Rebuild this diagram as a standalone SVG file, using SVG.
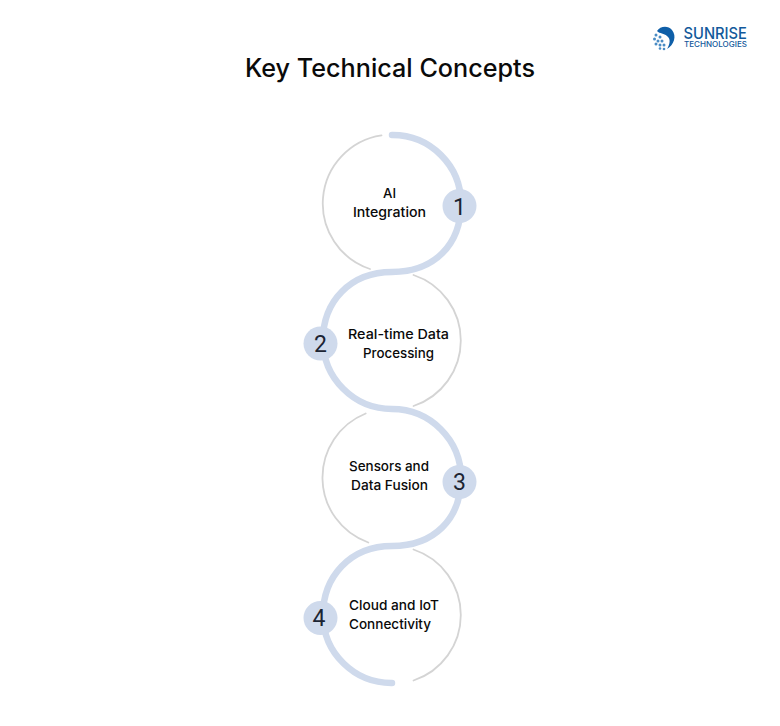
<svg xmlns="http://www.w3.org/2000/svg" width="780" height="726" viewBox="0 0 780 726">
<style>
text{font-family:"Inter","Open Sans","Liberation Sans",sans-serif;fill:#0a0a0a;text-anchor:middle}
.t{font-size:13.5px;font-weight:500}
.n{font-size:23px;font-family:"Roboto","Liberation Sans",sans-serif;fill:#1c2433}
.g{fill:none;stroke:#d4d4d4;stroke-width:1.8;stroke-linecap:round}
.b{fill:none;stroke:#cfdaec;stroke-width:6.5;stroke-linecap:round}
.c{fill:#cfdaec}
.l{text-anchor:start;fill:#12599b;font-weight:500}
.d{fill:#4a8cc4}
</style>
<rect width="780" height="726" fill="#fff"/>
<text x="390" y="76.500" font-size="25" font-weight="500" textLength="290" lengthAdjust="spacingAndGlyphs">Key Technical Concepts</text>
<g id="logo">
<path d="M657 31C660 26 668 25 672 30C677 36 674 45 667 49C670 44 671 39 667 36C664 33 660 34 657 31z" fill="#0f5fa8"/>
<circle class="d" cx="656" cy="35" r="1.500"/><circle class="d" cx="660" cy="37" r="1.500"/><circle class="d" cx="654.500" cy="39" r="1.500"/><circle class="d" cx="658" cy="41" r="1.500"/><circle class="d" cx="662" cy="41" r="1.500"/><circle class="d" cx="656" cy="44" r="1.500"/><circle class="d" cx="660" cy="45" r="1.500"/><circle class="d" cx="664" cy="45" r="1.500"/><circle class="d" cx="660" cy="48.500" r="1.300"/><circle class="d" cx="664" cy="49" r="1.300"/>
<text class="l" x="683.500" y="38.500" font-size="16" textLength="63.500" lengthAdjust="spacingAndGlyphs">SUNRISE</text>
<text class="l" x="684" y="47.300" font-size="7.500" textLength="63" lengthAdjust="spacingAndGlyphs">TECHNOLOGIES</text>
</g>
<g id="connectors">
<path class="g" d="M381.500 135.300A69 69 0 0 0 370 269"/>
<path class="g" d="M413.500 275A69 69 0 0 1 413.500 406"/>
<path class="g" d="M365.700 413.500A69 69 0 0 0 368.300 542.500"/>
<path class="g" d="M413.500 549.500A69 69 0 0 1 413.500 680.500"/>
<path class="b" d="M392 135A68.500 68.500 0 0 1 461 203.500C461 245 434 272 392 272C350 272 323 302 323 340A69 69 0 0 0 392 409A69 69 0 0 1 461 478C461 519 434 546 392 546C350 546 323 577 323 615A68.500 68.500 0 0 0 392 683"/>
</g>
<g id="node-1">
<circle class="c" cx="459.500" cy="206" r="17"/>
<text class="n" x="459.500" y="214.500">1</text>
<text class="t" x="389.500" y="198" textLength="13" lengthAdjust="spacingAndGlyphs">AI</text>
<text class="t" x="389.500" y="217" textLength="73" lengthAdjust="spacingAndGlyphs">Integration</text>
</g>
<g id="node-2">
<circle class="c" cx="320.500" cy="343.500" r="17"/>
<text class="n" x="320.500" y="351.500">2</text>
<text class="t" x="398.500" y="339" textLength="101" lengthAdjust="spacingAndGlyphs">Real-time Data</text>
<text class="t" x="398.500" y="358" textLength="71" lengthAdjust="spacingAndGlyphs">Processing</text>
</g>
<g id="node-3">
<circle class="c" cx="459.500" cy="482" r="17"/>
<text class="n" x="459.500" y="490">3</text>
<text class="t" x="389" y="471" textLength="80" lengthAdjust="spacingAndGlyphs">Sensors and</text>
<text class="t" x="389.500" y="490" textLength="77" lengthAdjust="spacingAndGlyphs">Data Fusion</text>
</g>
<g id="node-4">
<circle class="c" cx="320.500" cy="618" r="17"/>
<text class="n" x="319" y="626">4</text>
<text class="t" x="394" y="610" textLength="90" lengthAdjust="spacingAndGlyphs">Cloud and IoT</text>
<text class="t" x="390" y="629" textLength="82" lengthAdjust="spacingAndGlyphs">Connectivity</text>
</g>
</svg>
